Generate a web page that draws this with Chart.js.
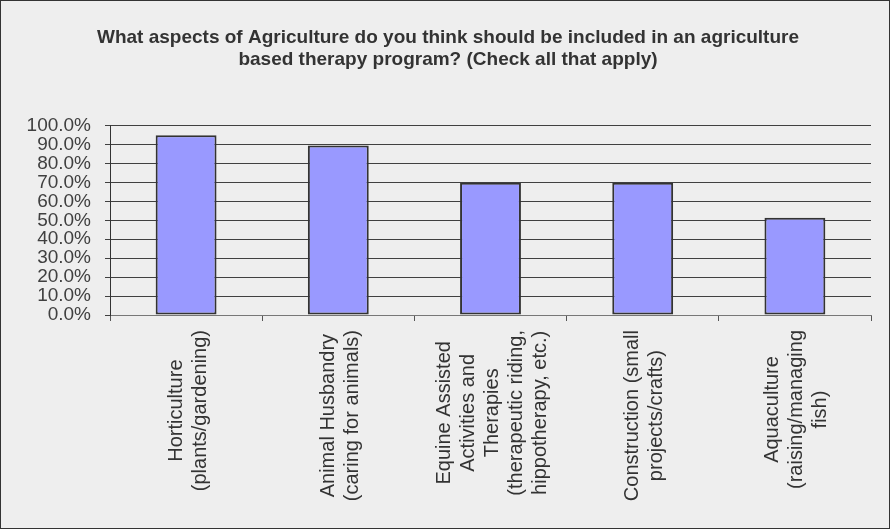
<!DOCTYPE html>
<html>
<head>
<meta charset="utf-8">
<script src="https://cdn.jsdelivr.net/npm/chart.js@4"></script>
<style>
  html, body { margin: 0; padding: 0; background: #eeeeee; }
  #wrap { width: 890px; height: 529px; }
</style>
</head>
<body>
<div id="wrap"><canvas id="myChart" width="890" height="529"></canvas></div>
<script>
// values
var categories = [
    ['Horticulture', '(plants/gardening)'],
    ['Animal Husbandry', '(caring for animals)'],
    ['Equine Assisted', 'Activities and', 'Therapies', '(therapeutic riding,', 'hippotherapy, etc.)'],
    ['Construction (small', 'projects/crafts)'],
    ['Aquaculture', '(raising/managing', 'fish)']
];
var percents = [94.9, 89.5, 69.8, 69.8, 51.3];
var yTicks = [0, 10, 20, 30, 40, 50, 60, 70, 80, 90, 100];
var titleLines = [
    'What aspects of Agriculture do you think should be included in an agriculture',
    'based therapy program? (Check all that apply)'
];

var fontFamily = "'Liberation Sans', Arial, sans-serif";

// background + frame around the whole chart
var frame = {
    id: 'frame',
    beforeDraw: function (chart) {
        var c = chart.ctx;
        c.save();
        c.fillStyle = '#eeeeee';
        c.fillRect(0, 0, chart.width, chart.height);
        c.strokeStyle = '#333333';
        c.lineWidth = 1;
        c.strokeRect(0.5, 0.5, chart.width - 1, chart.height - 1);
        c.restore();
    }
};

// rotated category labels, lines centred inside their block (like excel does)
var rotatedLabels = {
    id: 'rotatedLabels',
    afterDraw: function (chart) {
        var c = chart.ctx;
        var xs = chart.scales.x;
        var lh = 24;
        c.save();
        c.font = '20px ' + fontFamily;
        c.fillStyle = '#333333';
        c.textAlign = 'center';
        c.textBaseline = 'middle';
        categories.forEach(function (lines, i) {
            var x = xs.getPixelForValue(i) + 2;
            var w = 0;
            lines.forEach(function (l) { w = Math.max(w, c.measureText(l).width); });
            var x0 = x - lines.length * lh / 2;
            var top = xs.top + 15;
            lines.forEach(function (l, j) {
                c.save();
                c.translate(x0 + lh * (j + 0.5), top + w / 2);
                c.rotate(-Math.PI / 2);
                c.fillText(l, 0, 0);
                c.restore();
            });
        });
        c.restore();
    }
};

var ctx = document.getElementById('myChart').getContext('2d');
var chart = new Chart(ctx, {
    type: 'bar',
    data: {
        labels: categories,
        datasets: [{
            data: percents,
            backgroundColor: '#9999ff',
            borderColor: '#333333',
            borderWidth: 2,
            borderSkipped: false,
            barPercentage: 0.4,
            categoryPercentage: 1.0
        }]
    },
    options: {
        responsive: false,
        animation: false,
        layout: {
            // some left padding nudges the title centre to the right
            padding: { left: 25, right: 19, top: 0, bottom: 0 }
        },
        plugins: {
            legend: { display: false },
            tooltip: { enabled: false },
            title: {
                display: true,
                text: titleLines,
                color: '#333333',
                font: { family: fontFamily, size: 19, weight: 'bold', lineHeight: 1.2 },
                padding: { top: 26, bottom: 54 }
            }
        },
        scales: {
            x: {
                grid: {
                    offset: true,
                    drawOnChartArea: false,
                    drawTicks: true,
                    tickLength: 6,
                    color: '#555555'
                },
                border: { display: true, color: '#777777', width: 1 },
                ticks: { display: false },
                afterFit: function (scale) { scale.height = 214; }
            },
            y: {
                min: 0,
                max: 100,
                grid: {
                    color: '#404040',
                    lineWidth: 1,
                    drawTicks: true,
                    tickLength: 5
                },
                border: { display: true, color: '#333333', width: 1 },
                afterBuildTicks: function (scale) {
                    scale.ticks = yTicks.map(function (v) { return { value: v }; });
                },
                ticks: {
                    autoSkip: false,
                    padding: 14,
                    color: '#404040',
                    font: { family: fontFamily, size: 19, lineHeight: 1 },
                    callback: function (v) { return v.toFixed(1) + '%'; }
                },
                afterFit: function (scale) { scale.width = 85; }
            }
        }
    },
    plugins: [frame, rotatedLabels]
});
</script>
</body>
</html>
